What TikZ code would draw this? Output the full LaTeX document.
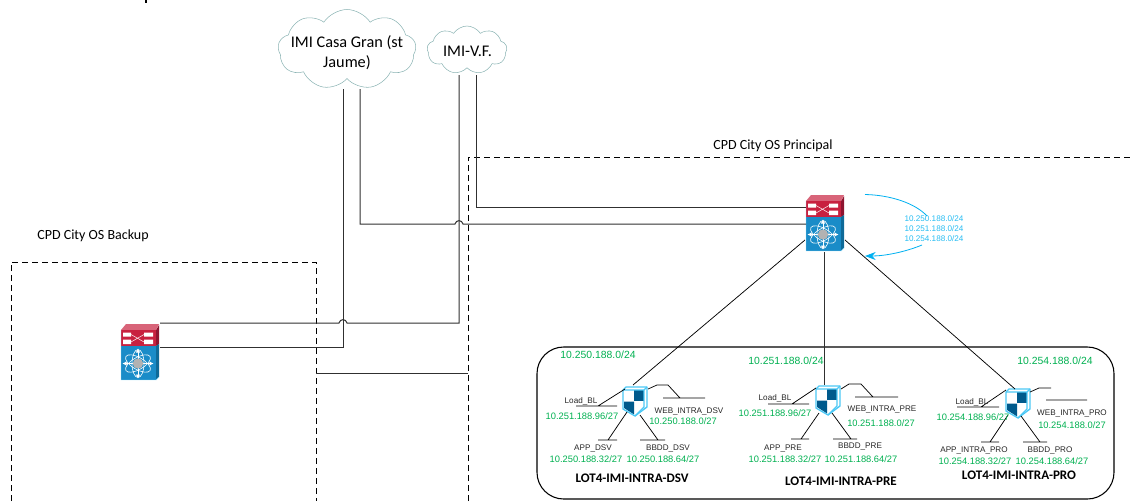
\documentclass[tikz,border=0pt]{standalone}
\usepackage{fontspec}
\setmainfont{Carlito}
\newfontfamily\arialf{Liberation Sans}
\usetikzlibrary{shapes.symbols,arrows.meta}
\definecolor{wire}{HTML}{303030}
\definecolor{subgreen}{HTML}{00B050}
\definecolor{skyb}{HTML}{00B0F0}
\definecolor{swred}{HTML}{C8213F}
\definecolor{swreddk}{HTML}{8E1430}
\definecolor{swblue}{HTML}{1A8CC8}
\definecolor{swbluedk}{HTML}{0F6A98}
\definecolor{shdark}{HTML}{005A8C}
\tikzset{
 link/.style={draw=wire,line width=0.75pt},
 thin link/.style={draw=black,line width=0.55pt},
 dashbox/.style={draw=black,line width=0.6pt,dash pattern=on 4.5pt off 3pt},
 cloudy/.style={cloud,cloud puffs=9,cloud puff arc=115,aspect=2,draw=black!30!teal!45,line width=0.4pt,inner sep=0pt},
 cloudtxt/.style={font=\fontsize{12.2}{15}\selectfont,align=center,inner sep=0pt},
 zone/.style={font=\fontsize{10.5}{12}\selectfont,inner sep=0pt},
 lot/.style={font=\fontsize{9.8}{12}\selectfont\bfseries,inner sep=0pt},
 netname/.style={font=\arialf\fontsize{6.1}{7}\selectfont,text=black!85,inner sep=0pt},
 netip/.style={font=\arialf\fontsize{7}{8}\selectfont,text=subgreen,inner sep=0pt},
 netbig/.style={font=\arialf\fontsize{7.8}{9}\selectfont,text=subgreen,inner sep=0pt},
 routes/.style={font=\arialf\fontsize{6.1}{7.5}\selectfont,text=skyb!85,inner sep=0pt,align=center},
 routearc/.style={draw=skyb,line width=0.6pt},
 iconbox/.style={inner sep=0pt,minimum width=0pt,minimum height=0pt}
}
\newcommand{\swicon}[3]{%
 \begin{scope}[shift={(#1,#2)}]
  \fill[swreddk] (35,6)--(38,1)--(38,20)--(35,22)--cycle;
  \fill[swred!70!white] (0,6)--(5,0)--(38,0)--(35,6)--cycle;
  \fill[swred] (0,6) rectangle (35,22);
  \fill[swbluedk] (35,22)--(38,20)--(38,53)--(35,56)--cycle;
  \fill[swblue] (0,22) rectangle (35,56);
  \fill[white] (2,8.5) rectangle (10,12.5) (23,8.5) rectangle (32,12.5) (2,15.5) rectangle (10,20) (23,15.5) rectangle (32,20);
  \draw[white,line width=0.35pt] (10,10.5)--(23,18) (10,18)--(23,10.5);
  \begin{scope}[shift={(17,39.5)}]
   \draw[white,line width=0.45pt,rotate=90] (0,0) ellipse (14 and 6);
   \draw[white,line width=0.45pt,rotate=30] (0,0) ellipse (14 and 6);
   \draw[white,line width=0.45pt,rotate=-30] (0,0) ellipse (14 and 6);
   \draw[white,line width=0.7pt,-{Latex[length=3pt,width=3.5pt]}] (0,0)--(0,-15);
   \draw[white,line width=0.7pt,-{Latex[length=3pt,width=3.5pt]}] (0,0)--(0,15);
   \draw[white,line width=0.7pt,-{Latex[length=3pt,width=3.5pt]}] (0,0)--(15.5,0);
   \draw[white,line width=0.7pt,-{Latex[length=3pt,width=3.5pt]}] (0,0)--(-15.5,0);
   \fill[black!30] (0,0) circle (5.2);
  \end{scope}
  \draw[skyb!40,line width=0.3pt] (0,6)--(0,56)--(35,56)--(38,53);
  \node[iconbox,minimum width=28.5pt,minimum height=42.75pt] (#3) at (19,28.5) {};
 \end{scope}}
\newcommand{\fwicon}[3]{%
 \begin{scope}[shift={(#1,#2)}]
  \fill[white] (0,3)--(3,0)--(24,0)--(24,21)--(12,30)--(0,22)--cycle;
  \fill[shdark] (11,3) rectangle (21,14);
  \fill[shdark] (1,14.5)--(11,14.5)--(11,27.5)--(1,21)--cycle;
  \draw[skyb!70,line width=1pt,line join=round] (0,3)--(21,3)--(21,20)--(12,29)--(0,22)--cycle;
  \draw[skyb!70,line width=1pt,line join=round] (0,3)--(3,0)--(24,0)--(24,20)--(12,29);
  \draw[skyb!70,line width=1pt] (21,3)--(24,0);
  \node[iconbox,minimum width=18pt,minimum height=22.5pt] (#3) at (12,15) {};
 \end{scope}}
\begin{document}
\begin{tikzpicture}[x=0.75pt,y=-0.75pt]
\useasboundingbox (0,0) rectangle (1132,501);
\coordinate (fragA) at (146,0);\coordinate (fragB) at (146,3);
\draw[black,line width=0.9pt] (fragA)--(fragB);
\coordinate (bk1) at (11,501);\coordinate (bk2) at (11,262);\coordinate (bk3) at (316,262);\coordinate (bk4) at (316,501);
\draw[dashbox] (bk1)--(bk2)--(bk3)--(bk4);
\coordinate (pr1) at (468,501);\coordinate (pr2) at (468,157);\coordinate (pr3) at (1132,157);
\draw[dashbox] (pr1)--(pr2)--(pr3);
\node[zone] (zb) at (93,236) {CPD City OS Backup};
\node[zone] (zp) at (773,146) {CPD City OS Principal};
\coordinate (ja) at (316,373);\coordinate (jb) at (468,373);
\draw[link] (ja)--(jb);
\draw[black,line width=0.8pt,rounded corners=20pt] (537,347) rectangle (1114,499);
\node[cloudy,minimum width=103.5pt,minimum height=60pt] (cl1) at (347,49.5) {};
\node[cloudtxt] (cl1t) at (347,52.5) {IMI Casa Gran (st\\Jaume)};
\node[cloudy,minimum width=60pt,minimum height=36pt] (cl2) at (467,50) {};
\node[cloudtxt] (cl2t) at (467.5,51.5) {IMI-V.F.};
\swicon{806}{195}{sw1}
\swicon{121}{324}{sw2}
\fwicon{623}{387}{fw1}
\fwicon{816}{386}{fw2}
\fwicon{1006}{389}{fw3}
\coordinate (a1) at (343,89);\coordinate (a2) at (343,347);\coordinate (a3) at (160,347);
\draw[link] (a1)--(a2)--(a3);
\coordinate (b1) at (459,75);\coordinate (b2) at (459,323);\coordinate (b3) at (347,323);\coordinate (b4) at (339,323);\coordinate (b5) at (160,323);
\draw[link] (b1)--(b2)--(b3) .. controls (346,318.5) and (340,318.5) .. (b4)--(b5);
\coordinate (c1) at (360,89);\coordinate (c2) at (360,224);\coordinate (c3) at (455,224);\coordinate (c4) at (463,224);\coordinate (c5) at (806,224);
\draw[link] (c1)--(c2)--(c3) .. controls (456,219.5) and (462,219.5) .. (c4)--(c5);
\coordinate (d1) at (476,75);\coordinate (d2) at (476,207);\coordinate (d3) at (806,207);
\draw[link] (d1)--(d2)--(d3);
\coordinate (e1) at (805,240);\coordinate (e2) at (633,385);
\draw[thin link] (e1)--(e2);
\coordinate (f1) at (824,252);\coordinate (f2) at (824,385);
\draw[link] (f1)--(f2);
\coordinate (g1) at (845,240);\coordinate (g2) at (1015,389);
\draw[thin link] (g1)--(g2);
\node[routes] (rt) at (934,229) {10.250.188.0/24\\10.251.188.0/24\\10.254.188.0/24};
\coordinate (h1) at (865,194.5);\coordinate (h2) at (927,216);
\draw[routearc] (h1) .. controls (890,195) and (915,203) .. (h2);
\coordinate (i1) at (922,245);\coordinate (i2) at (865,256);
\draw[routearc,-{Stealth[length=8pt,width=6pt]}] (i1) .. controls (905,252) and (885,256) .. (i2);
\foreach \n/\ax/\ay/\bx/\by/\cx/\cy/\dx/\dy in {la/576/406/617/406/598/406/625/389, aa/598/440/617/440/608/440/627/412, ba/640/440/665/440/658/440/640/415}{
 \coordinate (\n1) at (\ax,\ay);\coordinate (\n2) at (\bx,\by);\coordinate (\n3) at (\cx,\cy);\coordinate (\n4) at (\dx,\dy);
 \draw[thin link] (\n1)--(\n2) (\n3)--(\n4);}
\coordinate (wa1) at (648,389);\coordinate (wa2) at (657,385);\coordinate (wa3) at (668,385);\coordinate (wa4) at (680,398);\coordinate (wa5) at (663,398);\coordinate (wa6) at (705,398);
\draw[thin link] (wa1)--(wa2)--(wa3)--(wa4) (wa5)--(wa6);
\node[netname] (n1) at (581,401) {Load\_BL};
\node[netip] (n2) at (582,416) {10.251.188.96/27};
\node[netname] (n3) at (689,411) {WEB\_INTRA\_DSV};
\node[netip] (n4) at (683,421) {10.250.188.0/27};
\node[netname] (n5) at (593,448) {APP\_DSV};
\node[netip] (n6) at (586,459) {10.250.188.32/27};
\node[netname] (n7) at (668,448) {BBDD\_DSV};
\node[netip] (n8) at (663,459) {10.250.188.64/27};
\node[lot] (n9) at (632,478) {LOT4-IMI-INTRA-DSV};
\node[netbig] (n10) at (598,355) {10.250.188.0/24};
\foreach \n/\ax/\ay/\bx/\by/\cx/\cy/\dx/\dy in {lb/768/404/809/404/792/404/816/388, ab/791/439/809/439/801/439/819/413, bb/833/439/857/439/851/439/832/413}{
 \coordinate (\n1) at (\ax,\ay);\coordinate (\n2) at (\bx,\by);\coordinate (\n3) at (\cx,\cy);\coordinate (\n4) at (\dx,\dy);
 \draw[thin link] (\n1)--(\n2) (\n3)--(\n4);}
\coordinate (wb1) at (841,389);\coordinate (wb2) at (849,384);\coordinate (wb3) at (861,384);\coordinate (wb4) at (873,397);\coordinate (wb5) at (855,397);\coordinate (wb6) at (898,397);
\draw[thin link] (wb1)--(wb2)--(wb3)--(wb4) (wb5)--(wb6);
\node[netname] (m1) at (775,398) {Load\_BL};
\node[netip] (m2) at (775,413) {10.251.188.96/27};
\node[netname] (m3) at (882,410) {WEB\_INTRA\_PRE};
\node[netip] (m4) at (881,423) {10.251.188.0/27};
\node[netname] (m5) at (783,448) {APP\_PRE};
\node[netip] (m6) at (785,459) {10.251.188.32/27};
\node[netname] (m7) at (860,447) {BBDD\_PRE};
\node[netip] (m8) at (861,459) {10.251.188.64/27};
\node[lot] (m9) at (841,481) {LOT4-IMI-INTRA-PRE};
\node[netbig] (m10) at (786,361) {10.251.188.0/24};
\foreach \n/\ax/\ay/\bx/\by/\cx/\cy/\dx/\dy in {lc/957/407/999/407/981/407/1006/390, ac/981/442/999/442/990/442/1008/415, bc/1023/442/1047/442/1040/442/1021/416}{
 \coordinate (\n1) at (\ax,\ay);\coordinate (\n2) at (\bx,\by);\coordinate (\n3) at (\cx,\cy);\coordinate (\n4) at (\dx,\dy);
 \draw[thin link] (\n1)--(\n2) (\n3)--(\n4);}
\coordinate (wc1) at (1030,392);\coordinate (wc2) at (1039,388);\coordinate (wc3) at (1051,388);\coordinate (wc5) at (1046,400);\coordinate (wc6) at (1087,400);
\draw[thin link] (wc1)--(wc2)--(wc3) (wc5)--(wc6);
\node[netname] (k1) at (972,402) {Load\_BL};
\node[netip] (k2) at (973,417) {10.254.188.96/27};
\node[netname] (k3) at (1072,413) {WEB\_INTRA\_PRO};
\node[netip] (k4) at (1072,425) {10.254.188.0/27};
\node[netname] (k5) at (974,450) {APP\_INTRA\_PRO};
\node[netip] (k6) at (975,461) {10.254.188.32/27};
\node[netname] (k7) at (1050,450) {BBDD\_PRO};
\node[netip] (k8) at (1052,461) {10.254.188.64/27};
\node[lot] (k9) at (1019,475) {LOT4-IMI-INTRA-PRO};
\node[netbig] (k10) at (1055,361) {10.254.188.0/24};
\end{tikzpicture}
\end{document}
